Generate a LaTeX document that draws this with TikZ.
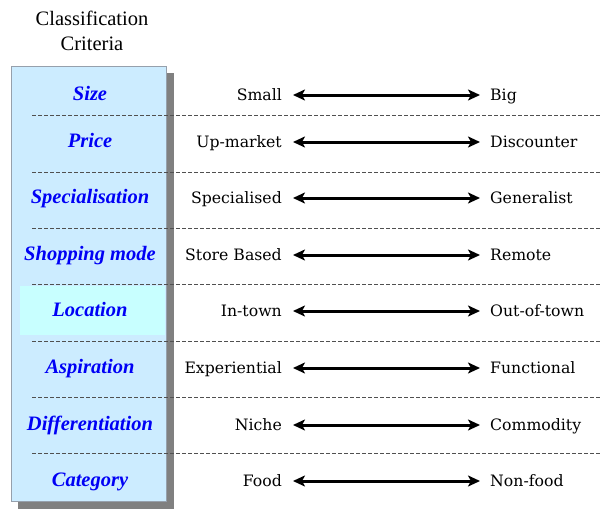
\documentclass[tikz,border=0pt]{standalone}
\usepackage{fontspec}
\setmainfont{Liberation Serif}[
  BoldFont={Liberation Serif Bold},
  ItalicFont={Liberation Serif Italic},
  BoldItalicFont={Liberation Serif Bold Italic}]
\newfontfamily\slabfont{DejaVu Serif}
\usetikzlibrary{arrows.meta}
\definecolor{panelblue}{RGB}{204,236,255}
\definecolor{hilite}{RGB}{200,255,255}
\definecolor{panelrule}{RGB}{150,160,172}
\definecolor{shadowgray}{RGB}{128,128,128}
\definecolor{critblue}{RGB}{0,0,245}
\definecolor{rulegray}{RGB}{80,80,80}
\tikzset{
  crit/.style={anchor=base, inner sep=0pt, text=critblue,
    font=\fontsize{20.5}{24}\selectfont\bfseries\itshape},
  lowend/.style={anchor=base east, inner sep=0pt,
    font=\slabfont\fontsize{15.7}{18}\selectfont},
  highend/.style={anchor=base west, inner sep=0pt,
    font=\slabfont\fontsize{15.7}{18}\selectfont},
  span/.style={line width=3pt,
    {Stealth[length=12pt,width=11pt,inset=3pt]}-{Stealth[length=12pt,width=11pt,inset=3pt]}},
  divider/.style={draw=rulegray, line width=0.8pt, dash pattern=on 4pt off 2pt},
}
\begin{document}
\begin{tikzpicture}[x=1pt, y=-1pt]
  \useasboundingbox (0,0) rectangle (600,509);
  % heading
  \node[anchor=base, inner sep=0pt, align=center,
        font=\fontsize{20.5}{25}\selectfont] (head) at (92,50) {Classification\\Criteria};
  % criteria panel with drop shadow
  \fill[shadowgray] (18,73) rectangle (174,509);
  \filldraw[fill=panelblue, draw=panelrule, line width=1pt] (11.5,66) rectangle (166,501.5);
  \fill[hilite] (20,285.7) rectangle (165,335);
  % dashed separators
  \foreach \k in {0,...,6}
    \draw[divider] (32,{115.7+56.3*\k}) -- (600,{115.7+56.3*\k});
  % criteria and their two extremes
  \foreach [count=\i] \crit/\lo/\hi/\base in {
      Size/Small/Big/100,
      Price/Up-market/Discounter/147,
      Specialisation/Specialised/Generalist/203,
      Shopping mode/Store Based/Remote/260,
      Location/In-town/Out-of-town/316,
      Aspiration/Experiential/Functional/373,
      Differentiation/Niche/Commodity/430,
      Category/Food/Non-food/486} {
    \node[crit] (c\i) at (90,\base) {\crit};
    \node[lowend] (l\i) at (282,\base) {\lo};
    \node[highend] (r\i) at (490,\base) {\hi};
    \draw[span] ([xshift=11pt,yshift=5pt]l\i.base east) -- ([xshift=-10pt,yshift=5pt]r\i.base west);
  }
\end{tikzpicture}
\end{document}
